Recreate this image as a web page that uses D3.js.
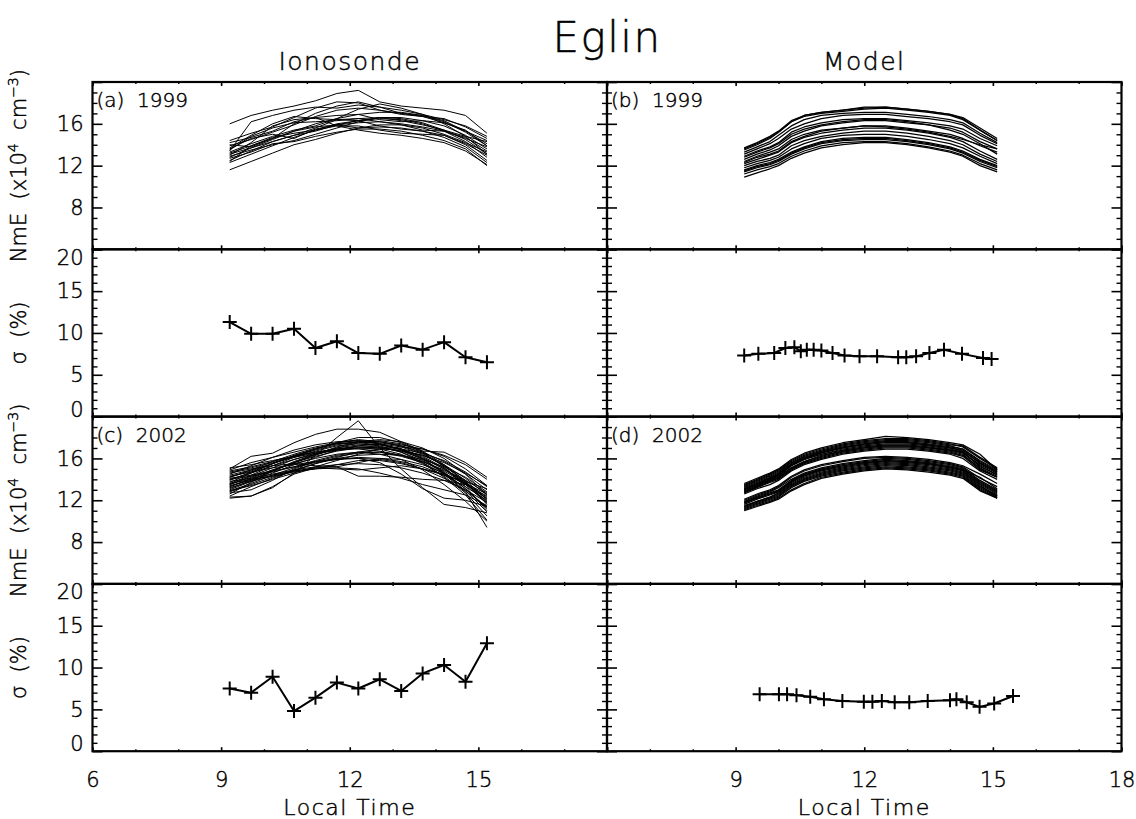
<!DOCTYPE html>
<html>
<head>
<meta charset="utf-8">
<script src="https://cdn.jsdelivr.net/npm/d3@7"></script>
<style>
  body { margin: 0; background: #fff; }
  svg { display: block; }
  text { font-family: "DejaVu Sans", sans-serif; font-weight: 200; fill: #000; stroke: #000; stroke-width: 0.45px; }
</style>
</head>
<body>
<svg id="chart" width="1136" height="819"></svg>
<script>
// ---- Data: E-region peak density (NmE, 1e4 cm^-3) and its day-to-day spread (sigma, %) at Eglin ----

// ionosonde sampling times (local time, h)
const ionoHours = [9.2, 9.7, 10.2, 10.7, 11.2, 11.7, 12.2, 12.7, 13.2, 13.7, 14.2, 14.7, 15.2];

// (a) ionosonde, 1999 : one row per day
const ionoNmE1999 = [
  [16.0,16.8,17.3,17.7,18.2,18.9,19.2,18.1,17.7,17.5,17.3,16.8,15.1],
  [13.4,16.2,16.8,17.3,17.6,17.5,17.8,17.6,17.3,16.9,16.4,15.8,14.8],
  [11.6,12.4,13.2,14.0,14.5,15.1,15.6,15.9,15.9,15.6,15.0,14.2,13.3],
  [13.2,13.9,14.6,15.3,16.0,16.5,16.9,17.1,17.1,16.8,16.2,15.2,13.9],
  [12.9,13.5,14.0,14.4,15.0,15.6,16.2,16.6,16.6,16.3,15.8,14.9,13.6],
  [13.7,14.9,16.0,16.7,16.5,16.4,16.3,16.6,16.5,16.1,15.4,14.5,13.1],
  [13.0,14.2,15.8,16.4,16.6,15.8,15.4,15.1,14.9,14.6,14.2,13.4,12.1],
  [14.0,13.8,14.6,16.0,17.0,17.7,18.1,17.6,17.0,16.8,16.3,15.3,14.1],
  [12.5,13.4,14.3,14.9,15.3,15.9,16.3,16.5,16.4,16.0,15.3,14.3,12.8],
  [13.5,14.8,15.6,16.1,16.2,16.3,16.5,16.6,16.3,15.9,15.4,14.8,14.3],
  [12.8,13.7,14.5,15.3,15.7,15.9,15.6,15.7,15.6,15.3,14.7,13.8,12.3],
  [13.3,14.1,14.8,15.4,15.8,16.5,17.4,17.9,17.5,16.9,16.0,14.8,13.1],
  [14.4,15.1,15.7,16.6,17.5,18.1,18.0,17.3,16.9,16.7,16.5,15.7,14.6],
  [12.3,13.1,13.9,14.7,15.4,16.0,16.3,15.8,15.5,15.3,14.9,14.0,12.5],
  [13.1,13.7,14.3,14.9,15.6,16.4,16.5,16.2,15.9,15.4,15.3,14.7,13.4],
  [13.9,14.5,15.2,15.9,16.7,17.3,17.5,17.3,17.0,16.7,16.1,15.3,14.4],
  [13.6,14.6,15.0,14.6,15.5,15.9,16.1,16.2,16.0,15.7,15.3,14.6,13.8],
  [12.7,13.3,14.1,14.3,14.8,15.2,15.5,15.5,15.3,14.9,14.4,13.6,12.0],
  [14.2,14.7,15.3,16.2,16.6,16.8,16.9,16.4,16.2,16.3,16.1,15.4,13.9],
  [12.4,13.9,14.7,15.1,15.4,15.8,15.8,15.4,15.1,15.0,14.9,14.1,13.0]
];

// (c) ionosonde, 2002
const ionoNmE2002 = [
  [12.3,12.4,13.2,14.6,16.3,18.0,19.6,17.0,15.0,13.2,11.6,11.3,10.8],
  [15.0,16.2,16.5,17.5,18.3,18.8,18.8,18.5,17.6,16.7,16.6,15.6,14.2],
  [12.2,12.4,13.3,14.5,15.1,15.2,14.3,14.3,14.2,14.0,13.9,13.5,12.4],
  [13.0,13.8,14.6,15.4,16.1,16.8,17.2,17.4,17.1,16.4,15.3,13.9,12.1],
  [14.4,14.9,15.5,16.2,16.9,17.5,17.8,17.6,17.2,16.5,15.3,13.7,11.8],
  [13.5,14.3,15.1,15.9,16.5,17.0,17.3,17.3,16.9,16.0,14.6,12.9,10.9],
  [14.0,14.6,15.3,15.9,16.4,16.8,17.0,17.0,16.7,16.0,15.0,13.7,12.3],
  [12.9,13.6,14.4,15.1,15.7,16.2,16.5,16.6,16.2,15.6,14.5,12.8,9.4],
  [14.8,15.2,15.7,16.2,16.6,16.9,16.9,16.7,16.3,15.7,14.8,13.6,12.1],
  [13.3,14.1,14.9,15.6,16.2,16.7,17.0,16.9,16.4,15.5,14.3,12.7,10.5],
  [14.2,14.8,15.5,16.2,16.8,17.3,17.6,17.5,17.2,16.6,15.7,14.5,13.0],
  [13.8,14.1,14.5,14.9,15.2,15.4,15.5,15.4,15.1,14.6,13.9,13.0,11.8],
  [12.6,13.7,14.8,15.7,16.4,16.9,17.2,17.1,16.6,15.8,14.6,13.1,11.2],
  [14.6,15.0,15.3,15.5,15.3,15.2,15.6,16.0,15.9,15.4,14.6,13.5,12.2],
  [13.1,13.9,14.8,15.6,16.3,17.0,17.5,17.7,17.4,16.7,15.4,13.8,11.6],
  [14.1,14.4,14.8,15.2,15.6,15.9,16.1,16.0,15.7,15.2,14.4,13.3,12.0],
  [13.6,14.4,15.3,16.1,16.7,17.2,17.4,17.2,16.6,15.6,14.2,12.5,10.1],
  [14.9,15.6,16.1,16.6,17.1,17.5,17.7,17.6,17.3,16.9,16.3,15.4,14.0],
  [12.8,13.5,14.2,14.8,15.1,15.0,14.9,15.1,15.3,15.0,14.5,13.6,12.6],
  [13.9,14.7,15.5,16.2,16.9,17.5,18.0,18.0,17.5,16.6,15.2,13.3,11.0],
  [14.3,14.7,15.1,15.4,15.7,15.9,16.0,15.9,15.6,15.0,14.1,12.9,11.4],
  [13.2,13.8,14.3,14.9,15.5,16.1,16.6,16.9,16.8,16.3,15.4,14.1,12.5],
  [14.5,15.3,16.1,16.8,17.3,17.6,17.7,17.4,16.9,16.1,15.0,13.5,11.7],
  [13.4,13.9,14.4,14.8,15.0,15.1,15.0,14.6,14.1,13.5,13.0,12.5,11.5],
  [12.4,13.3,14.1,14.8,15.5,16.0,16.3,16.4,16.3,15.9,15.2,14.2,12.8],
  [14.7,15.1,15.6,16.1,16.5,16.8,17.0,17.1,16.9,16.5,15.8,14.7,13.3],
  [13.7,14.6,15.5,16.3,16.9,17.4,17.6,17.4,16.8,15.9,14.7,13.1,11.3],
  [12.9,13.4,14.0,14.6,15.2,15.8,16.4,16.9,17.1,16.9,16.2,15.0,13.4],
  [14.0,14.3,14.7,15.2,15.8,16.3,16.6,16.6,16.3,15.7,14.9,13.9,12.7],
  [13.5,14.2,14.9,15.5,16.0,16.4,16.6,16.4,15.9,14.9,13.5,11.9,10.0],
  [15.1,15.4,15.8,16.2,16.6,16.9,17.1,17.0,16.7,16.3,15.6,14.6,13.4],
  [12.7,13.0,13.9,15.0,15.7,16.0,16.0,15.6,14.5,13.1,12.2,12.0,11.4],
  [13.3,14.0,14.8,15.6,16.4,17.1,17.6,17.8,17.6,17.0,16.0,14.5,12.5],
  [14.2,14.9,15.7,16.4,17.0,17.4,17.5,17.3,16.9,16.2,15.1,13.6,11.9],
  [13.6,14.0,14.3,14.7,15.0,15.4,15.8,15.8,15.5,15.0,14.4,13.8,13.1]
];

// model output times (local time, h)
const modelHours = [9.2, 9.5, 9.8, 10.0, 10.3, 10.6, 11.0, 11.5, 12.0, 12.5, 13.0, 13.5, 14.0, 14.3, 14.7, 15.1];

// (b) model, 1999
const modelNmE1999 = [
  [13.7,14.2,14.8,15.3,16.3,16.8,17.1,17.3,17.5,17.6,17.4,17.2,16.9,16.6,15.6,14.6],
  [13.5,14.0,14.6,15.2,16.2,16.7,17.0,17.2,17.4,17.5,17.3,17.1,16.8,16.4,15.4,14.4],
  [13.3,13.8,14.3,14.9,15.8,16.4,16.8,17.0,17.1,17.1,16.9,16.7,16.4,16.1,15.1,14.2],
  [13.1,13.6,14.1,14.6,15.5,16.0,16.5,16.8,16.9,16.9,16.7,16.5,16.2,15.9,14.9,14.1],
  [12.9,13.4,13.8,14.2,15.2,15.7,16.1,16.4,16.5,16.5,16.3,16.1,15.8,15.5,14.6,13.9],
  [12.6,13.1,13.5,13.9,14.8,15.3,15.8,16.1,16.3,16.3,16.1,15.9,15.6,15.2,14.3,13.6],
  [12.4,12.9,13.3,13.6,14.5,15.0,15.4,15.6,15.8,15.8,15.6,15.3,15.0,14.6,13.9,13.3],
  [12.2,12.6,13.0,13.3,14.2,14.7,15.1,15.4,15.6,15.6,15.4,15.1,14.7,14.3,13.4,12.6],
  [12.0,12.4,12.7,13.0,13.9,14.4,14.8,15.1,15.3,15.3,15.1,14.8,14.4,14.0,13.1,12.4],
  [11.8,12.2,12.5,12.8,13.6,14.1,14.6,14.9,15.0,15.0,14.8,14.5,14.1,13.7,12.9,12.2],
  [11.6,12.0,12.3,12.6,13.3,13.8,14.3,14.6,14.7,14.7,14.5,14.2,13.8,13.4,12.6,12.0],
  [11.4,11.8,12.1,12.4,13.1,13.6,14.1,14.4,14.5,14.5,14.3,14.0,13.6,13.2,12.4,11.8],
  [11.2,11.6,11.9,12.2,12.9,13.4,13.9,14.2,14.3,14.3,14.1,13.8,13.4,13.0,12.2,11.6],
  [10.9,11.3,11.7,12.0,12.7,13.2,13.7,14.0,14.2,14.2,14.0,13.7,13.3,12.9,12.0,11.4],
  [13.6,14.1,14.7,15.2,16.2,16.8,17.1,17.3,17.6,17.6,17.4,17.2,16.9,16.5,15.4,14.4],
  [12.8,13.3,13.7,14.1,15.0,15.5,15.9,16.2,16.4,16.4,16.2,15.9,15.4,15.0,14.1,13.1],
  [12.3,12.8,13.1,13.4,14.3,14.8,15.3,15.6,15.8,15.7,15.5,15.2,14.8,14.5,14.0,13.6],
  [11.5,11.9,12.2,12.5,13.2,13.7,14.2,14.5,14.6,14.6,14.4,14.1,13.7,13.3,12.5,11.9]
];

// (d) model, 2002
const modelNmE2002 = [
  [13.5,14.0,14.5,14.9,15.8,16.4,16.9,17.4,17.7,17.9,17.9,17.7,17.4,17.1,16.0,15.0],
  [13.3,13.8,14.3,14.7,15.6,16.2,16.7,17.2,17.5,17.7,17.7,17.5,17.2,16.9,15.7,14.8],
  [13.1,13.6,14.1,14.5,15.4,16.0,16.5,17.0,17.3,17.5,17.5,17.3,17.0,16.8,15.5,14.7],
  [13.0,13.5,14.0,14.4,15.3,15.9,16.4,16.9,17.2,17.4,17.4,17.2,16.9,16.6,15.2,14.5],
  [12.9,13.4,13.9,14.2,15.1,15.7,16.3,16.7,17.0,17.2,17.2,17.0,16.8,16.5,15.4,14.6],
  [12.8,13.3,13.8,14.1,15.0,15.6,16.1,16.6,16.9,17.1,17.1,16.9,16.6,16.3,15.1,14.3],
  [13.4,13.9,14.4,14.8,15.7,16.3,16.8,17.3,17.6,17.8,17.8,17.6,17.3,17.2,16.1,15.1],
  [12.7,13.2,13.7,14.0,14.9,15.5,16.0,16.5,16.8,17.0,17.0,16.8,16.5,16.2,14.9,14.2],
  [13.2,13.7,14.2,14.6,15.5,16.1,16.6,17.1,17.4,17.6,17.6,17.4,17.1,16.9,15.8,14.9],
  [12.6,13.1,13.5,13.9,14.8,15.4,15.9,16.4,16.7,16.9,16.9,16.7,16.4,16.0,14.8,14.0],
  [13.0,13.5,14.0,14.3,15.3,15.9,16.4,16.8,17.1,17.3,17.3,17.1,16.8,16.6,15.3,14.4],
  [13.6,14.1,14.6,15.0,15.9,16.5,17.0,17.5,17.8,18.1,18.0,17.8,17.5,17.3,16.4,14.9],
  [12.8,13.3,13.8,14.2,15.1,15.7,16.2,16.7,17.0,17.2,17.2,17.0,16.7,16.4,15.0,14.2],
  [13.1,13.6,14.1,14.5,15.4,16.0,16.6,17.0,17.4,17.6,17.5,17.3,17.0,16.7,15.6,14.7],
  [12.0,12.5,12.9,13.3,14.2,14.8,15.3,15.7,16.0,16.1,16.0,15.8,15.5,15.2,14.1,13.3],
  [11.9,12.4,12.8,13.2,14.0,14.6,15.1,15.5,15.8,16.0,15.9,15.7,15.4,15.1,13.9,13.0],
  [11.8,12.3,12.7,13.0,13.9,14.5,15.0,15.4,15.7,15.9,15.8,15.6,15.3,15.0,13.8,12.9],
  [11.7,12.2,12.6,12.9,13.8,14.4,14.9,15.3,15.6,15.8,15.7,15.5,15.2,14.9,13.7,12.8],
  [11.6,12.1,12.5,12.8,13.7,14.3,14.8,15.2,15.5,15.7,15.6,15.4,15.1,14.8,13.6,12.7],
  [11.5,11.9,12.3,12.7,13.6,14.2,14.7,15.1,15.4,15.6,15.5,15.3,15.0,14.7,13.5,12.6],
  [11.4,11.8,12.2,12.5,13.4,14.0,14.5,14.9,15.2,15.4,15.3,15.1,14.8,14.5,13.3,12.5],
  [11.3,11.7,12.1,12.4,13.3,13.9,14.4,14.8,15.1,15.3,15.2,15.0,14.7,14.4,13.2,12.4],
  [11.2,11.6,12.0,12.3,13.2,13.8,14.3,14.7,15.0,15.2,15.1,14.9,14.6,14.3,13.1,12.3],
  [11.1,11.5,11.9,12.2,13.0,13.6,14.2,14.6,14.9,15.1,15.0,14.8,14.5,14.2,13.0,12.2],
  [11.0,11.4,11.8,12.1,12.9,13.5,14.1,14.5,14.8,15.0,14.9,14.7,14.4,14.1,12.9,12.2],
  [12.1,12.6,13.0,13.4,14.3,14.9,15.4,15.8,16.1,16.2,16.1,15.9,15.6,15.3,14.5,13.6],
  [11.8,12.2,12.6,12.9,13.8,14.4,14.9,15.3,15.6,15.8,15.7,15.5,15.2,14.9,14.2,13.1],
  [11.4,11.9,12.3,12.6,13.5,14.1,14.6,15.0,15.3,15.5,15.4,15.2,14.9,14.6,13.4,12.4]
];

// standard deviation (%) of NmE
const ionoSigma1999 = [11.3, 9.9, 9.9, 10.5, 8.2, 9.0, 7.6, 7.5, 8.5, 8.0, 8.9, 7.1, 6.5];
const ionoSigma2002 = [7.5, 7.0, 8.9, 4.8, 6.4, 8.2, 7.5, 8.6, 7.2, 9.3, 10.3, 8.3, 12.9];

const modelSigmaHours1999 = [9.2, 9.53, 9.9, 10.16, 10.37, 10.52, 10.66, 10.82, 11.0, 11.26, 11.54, 11.89, 12.3, 12.79, 12.98, 13.21, 13.52, 13.86, 14.28, 14.77, 14.97];
const modelSigma1999 = [7.3, 7.5, 7.6, 8.2, 8.3, 7.8, 8.0, 8.0, 7.9, 7.6, 7.3, 7.2, 7.2, 7.1, 7.1, 7.2, 7.6, 8.0, 7.5, 7.0, 6.9];

const modelSigmaHours2002 = [9.56, 10.01, 10.2, 10.42, 10.74, 11.06, 11.49, 11.99, 12.19, 12.41, 12.71, 13.05, 13.48, 14.0, 14.15, 14.39, 14.69, 15.03, 15.47];
const modelSigma2002 = [6.8, 6.8, 6.8, 6.7, 6.5, 6.2, 6.0, 5.9, 5.9, 6.0, 5.85, 5.85, 6.0, 6.1, 6.2, 5.85, 5.3, 5.7, 6.6];

// axis ticks and labels
const xDomain = [6, 18];
const xMajorTicks = [6, 9, 12, 15, 18];
const xMinorTicks = [7, 8, 10, 11, 13, 14, 16, 17];
const xLabelsLeft = [6, 9, 12, 15];
const xLabelsRight = [9, 12, 15, 18];
const nmeDomain = [4, 20];
const nmeMajorTicks = [4, 8, 12, 16, 20];
const nmeLabels = [8, 12, 16];
const sigmaDomain = [0, 20];
const sigmaMajorTicks = [0, 5, 10, 15, 20];
const sigmaLabels = [0, 5, 10, 15, 20];

const title = "Eglin";
const columnTitles = ["Ionosonde", "Model"];
const xTitle = "Local Time";

// ---- Layout ----
const svg = d3.select("#chart");
const colLeft = [92.5, 607];
const panelW = 514.5;
const rowTop = [82, 249.3, 416.6, 583.9];
const panelH = 167.3;
const FONT = "DejaVu Sans, sans-serif";

const panels = [
  { col: 0, row: 0, kind: "nme", hours: ionoHours, curves: ionoNmE1999, tag: "(a)  1999" },
  { col: 1, row: 0, kind: "nme", hours: modelHours, curves: modelNmE1999, tag: "(b)  1999" },
  { col: 0, row: 1, kind: "sig", hours: ionoHours, values: ionoSigma1999 },
  { col: 1, row: 1, kind: "sig", hours: modelSigmaHours1999, values: modelSigma1999 },
  { col: 0, row: 2, kind: "nme", hours: ionoHours, curves: ionoNmE2002, tag: "(c)  2002" },
  { col: 1, row: 2, kind: "nme", hours: modelHours, curves: modelNmE2002, tag: "(d)  2002" },
  { col: 0, row: 3, kind: "sig", hours: ionoHours, values: ionoSigma2002 },
  { col: 1, row: 3, kind: "sig", hours: modelSigmaHours2002, values: modelSigma2002 }
];

function styleTicks(g, width) {
  g.select(".domain").remove();
  g.selectAll(".tick line").attr("stroke", "#000").attr("stroke-width", width);
}

panels.forEach(p => {
  const x0 = colLeft[p.col], y0 = rowTop[p.row];
  const x = d3.scaleLinear().domain(xDomain).range([x0, x0 + panelW]);
  const isN = p.kind === "nme";
  const y = d3.scaleLinear().domain(isN ? nmeDomain : sigmaDomain).range([y0 + panelH, y0]);
  const yMajor = isN ? nmeMajorTicks : sigmaMajorTicks;
  const yMinor = d3.range(yMajor[0], yMajor[yMajor.length - 1] + 1, 1).filter(v => !yMajor.includes(v));
  const g = svg.append("g");

  // data
  const line = d3.line().x((d, i) => x(p.hours[i])).y(d => y(d));
  if (isN) {
    g.append("g").selectAll("path").data(p.curves).join("path")
      .attr("d", line).attr("fill", "none").attr("stroke", "#000")
      .attr("stroke-width", p.col === 0 ? 1 : 1.25)
      .attr("stroke-linejoin", "round");
  } else {
    g.append("path").datum(p.values).attr("d", line)
      .attr("fill", "none").attr("stroke", "#000").attr("stroke-width", 2).attr("stroke-linejoin", "round");
    g.append("g").selectAll("path").data(p.values).join("path")
      .attr("transform", (d, i) => `translate(${x(p.hours[i])},${y(d)})`)
      .attr("d", "M-7,0H7M0,-7V7").attr("stroke", "#000").attr("stroke-width", 2);
  }

  // inward ticks on all four sides
  g.append("g").attr("transform", `translate(${x0},0)`)
    .call(d3.axisRight(y).tickValues(yMajor).tickSize(10).tickFormat("")).call(styleTicks, 1.6);
  g.append("g").attr("transform", `translate(${x0},0)`)
    .call(d3.axisRight(y).tickValues(yMinor).tickSize(5).tickFormat("")).call(styleTicks, 1.4);
  g.append("g").attr("transform", `translate(${x0 + panelW},0)`)
    .call(d3.axisLeft(y).tickValues(yMajor).tickSize(10).tickFormat("")).call(styleTicks, 1.6);
  g.append("g").attr("transform", `translate(${x0 + panelW},0)`)
    .call(d3.axisLeft(y).tickValues(yMinor).tickSize(5).tickFormat("")).call(styleTicks, 1.4);
  g.append("g").attr("transform", `translate(0,${y0})`)
    .call(d3.axisBottom(x).tickValues(xMajorTicks).tickSize(4).tickFormat("")).call(styleTicks, 1.6);
  g.append("g").attr("transform", `translate(0,${y0})`)
    .call(d3.axisBottom(x).tickValues(xMinorTicks).tickSize(2).tickFormat("")).call(styleTicks, 1.4);
  g.append("g").attr("transform", `translate(0,${y0 + panelH})`)
    .call(d3.axisTop(x).tickValues(xMajorTicks).tickSize(4).tickFormat("")).call(styleTicks, 1.6);
  g.append("g").attr("transform", `translate(0,${y0 + panelH})`)
    .call(d3.axisTop(x).tickValues(xMinorTicks).tickSize(2).tickFormat("")).call(styleTicks, 1.4);

  // frame
  g.append("rect").attr("x", x0).attr("y", y0).attr("width", panelW).attr("height", panelH)
    .attr("fill", "none").attr("stroke", "#000").attr("stroke-width", 2.2);

  // y tick labels (left column only)
  if (p.col === 0) {
    const lab = g.append("g").attr("transform", `translate(${x0},0)`)
      .call(d3.axisLeft(y).tickValues(isN ? nmeLabels : sigmaLabels).tickSize(0).tickPadding(9));
    lab.select(".domain").remove();
    lab.selectAll("text").attr("font-family", FONT).attr("font-size", 21).attr("fill", "#000");
    if (!isN) {
      // keep the end labels inside the panel's band
      lab.selectAll(".tick").filter(d => d === sigmaDomain[1]).select("text").attr("y", 8);
      lab.selectAll(".tick").filter(d => d === sigmaDomain[0]).select("text").attr("y", -7);
    }
  }

  // x tick labels (bottom row only)
  if (p.row === 3) {
    const lab = g.append("g").attr("transform", `translate(0,${y0 + panelH})`)
      .call(d3.axisBottom(x).tickValues(p.col === 0 ? xLabelsLeft : xLabelsRight).tickSize(0).tickPadding(21));
    lab.select(".domain").remove();
    lab.selectAll("text").attr("font-family", FONT).attr("font-size", 21).attr("fill", "#000");
    g.append("text").attr("x", x0 + panelW / 2).attr("y", 815).attr("text-anchor", "middle")
      .attr("font-size", 22).attr("letter-spacing", 1.5).text(xTitle);
  }

  if (p.tag) {
    g.append("text").attr("x", x0 + 4).attr("y", y0 + 25).attr("font-size", 20)
      .style("white-space", "pre").text(p.tag);
  }
});

// titles
svg.append("text").attr("x", 607).attr("y", 52).attr("text-anchor", "middle")
  .attr("font-size", 42).attr("letter-spacing", 1.5).text(title);
columnTitles.forEach((t, i) => {
  svg.append("text").attr("x", colLeft[i] + panelW / 2).attr("y", 70).attr("text-anchor", "middle")
    .attr("font-size", 25).attr("letter-spacing", 1.5).text(t);
});

// rotated y-axis titles
function nmeTitle(cy) {
  const t = svg.append("text").attr("transform", `translate(26,${cy}) rotate(-90)`)
    .attr("text-anchor", "middle").attr("font-size", 21).style("white-space", "pre");
  t.append("tspan").text("NmE  (x10");
  t.append("tspan").attr("dy", -8).attr("font-size", 14).text("4");
  t.append("tspan").attr("dy", 8).text("  cm");
  t.append("tspan").attr("dy", -8).attr("font-size", 14).text("−3");
  t.append("tspan").attr("dy", 8).text(")");
}
function sigmaTitle(cy) {
  svg.append("text").attr("transform", `translate(26,${cy}) rotate(-90)`)
    .attr("text-anchor", "middle").attr("font-size", 21).style("white-space", "pre").text("σ  (%)");
}
nmeTitle(rowTop[0] + panelH / 2);
sigmaTitle(rowTop[1] + panelH / 2);
nmeTitle(rowTop[2] + panelH / 2);
sigmaTitle(rowTop[3] + panelH / 2);
</script>
</body>
</html>
